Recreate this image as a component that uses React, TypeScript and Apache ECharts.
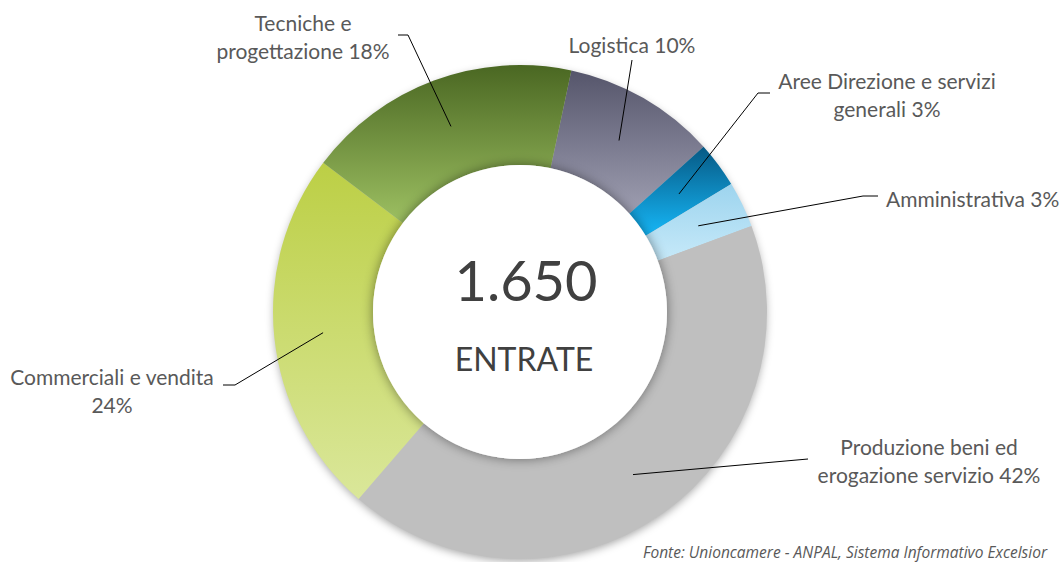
import React, { useEffect, useRef } from "react";
import * as echarts from "echarts";

// ---- data ----
const categories = [
  "Logistica",
  "Aree Direzione e servizi\ngenerali",
  "Amministrativa",
  "Produzione beni ed\nerogazione servizio",
  "Commerciali e vendita",
  "Tecniche e\nprogettazione",
];
const shares = [10, 3, 3, 42, 24, 18];
const labelJoin = [" ", " ", " ", " ", "\n", " "];
const totalEntrate = 1650;
const centerCaption = "ENTRATE";
const sourceNote = "Fonte: Unioncamere - ANPAL, Sistema Informativo Excelsior";

// ---- styles ----
const gradients = [
  ["#55556b", "#9e9eb1"],
  ["#065984", "#16b7f7"],
  ["#9dd4ee", "#c6e9f9"],
  ["#bfbfbf", "#bfbfbf"],
  ["#bccf45", "#dae79a"],
  ["#4a6722", "#9dc062"],
];

// ---- layout (pixels) ----
const CX = 520;
const CY = 312;
const R_IN = 147;
const R_OUT = 247;
const R_LINE = 198;
const START_ANGLE = 78;
const labelPos = [
  { x: 632, y: 44, align: "center", bend: [632, 60], end: [632, 60] },
  { x: 887, y: 94, align: "center", bend: [758, 93], end: [770, 93] },
  { x: 886, y: 198, align: "left", bend: [863, 196], end: [878, 196] },
  { x: 929, y: 460, align: "center", bend: [808, 459], end: [808, 459] },
  { x: 112, y: 390, align: "center", bend: [235, 385], end: [223, 385] },
  { x: 303, y: 36, align: "center", bend: [408, 35], end: [398, 35] },
];

const FONT = "Lato, 'Open Sans', sans-serif";

export default function App() {
  const ref = useRef<HTMLDivElement>(null);

  useEffect(() => {
    if (!ref.current) return;
    const chart = echarts.init(ref.current, null, { renderer: "svg" });
    const total = shares.reduce((a, b) => a + b, 0);

    const data = categories.map((name, i) => ({
      name,
      value: shares[i],
      itemStyle: {
        color: new echarts.graphic.LinearGradient(0, 0, 0, 1, [
          { offset: 0, color: gradients[i][0] },
          { offset: 1, color: gradients[i][1] },
        ]),
      },
    }));

    const overlayData = categories.map((name, i) => ({ name, value: shares[i] }));

    const midPoint = (i: number, p: any) => {
      if (p && p[0]) {
        const dx = p[0][0] - CX;
        const dy = p[0][1] - CY;
        const k = R_LINE / Math.hypot(dx, dy);
        return [CX + dx * k, CY + dy * k];
      }
      let cum = 0;
      for (let j = 0; j < i; j++) cum += shares[j];
      const a = ((START_ANGLE - (360 * (cum + shares[i] / 2)) / total) * Math.PI) / 180;
      return [CX + R_LINE * Math.cos(a), CY - R_LINE * Math.sin(a)];
    };

    chart.setOption({
      animation: false,
      backgroundColor: "#ffffff",
      series: [
        // soft shadow behind the ring
        {
          type: "pie",
          z: 1,
          center: [CX, CY],
          radius: [R_IN + 4, R_OUT - 1],
          silent: true,
          label: { show: false },
          labelLine: { show: false },
          data: [
            {
              value: 1,
              itemStyle: {
                color: "#bfbfbf",
                shadowBlur: 8,
                shadowOffsetY: 3,
                shadowColor: "rgba(0,0,0,0.35)",
              },
            },
          ],
        },
        // main ring
        {
          type: "pie",
          z: 2,
          center: [CX, CY],
          radius: [R_IN, R_OUT],
          startAngle: START_ANGLE,
          clockwise: true,
          silent: true,
          data,
          label: { show: false },
          labelLine: { show: false },
        },
        // labels + leader lines above the ring
        {
          type: "pie",
          z: 3,
          center: [CX, CY],
          radius: [R_IN, R_OUT],
          startAngle: START_ANGLE,
          clockwise: true,
          avoidLabelOverlap: false,
          silent: true,
          data: overlayData,
          itemStyle: { color: "rgba(0,0,0,0)" },
          label: {
            show: true,
            position: "outside",
            color: "#595959",
            fontFamily: FONT,
            fontSize: 21,
            lineHeight: 28,
            formatter: (p: any) => p.name + labelJoin[p.dataIndex] + p.value + "%",
          },
          labelLine: {
            show: true,
            length: 10,
            length2: 10,
            lineStyle: { color: "#000000", width: 1 },
          },
          labelLayout: (params: any) => {
            const i = params.dataIndex;
            const lp = labelPos[i];
            const start = midPoint(i, params.labelLinePoints);
            return {
              x: lp.x,
              y: lp.y,
              align: lp.align,
              verticalAlign: "middle",
              labelLinePoints: [start, lp.bend, lp.end],
            };
          },
        },
        // white centre disc with shadow on the ring's inner edge
        {
          type: "pie",
          z: 4,
          center: [CX, CY],
          radius: [0, R_IN],
          silent: true,
          label: { show: false },
          labelLine: { show: false },
          data: [
            {
              value: 1,
              itemStyle: {
                color: "#ffffff",
                shadowBlur: 12,
                shadowColor: "rgba(0,0,0,0.45)",
              },
            },
          ],
        },
      ],
      graphic: [
        {
          type: "text",
          z: 100,
          x: CX + 6,
          y: CY - 33,
          style: {
            text: totalEntrate.toLocaleString("it-IT"),
            fill: "#404040",
            font: `56px ${FONT}`,
            align: "center",
            verticalAlign: "middle",
          },
        },
        {
          type: "text",
          z: 100,
          x: CX + 4,
          y: CY + 46,
          style: {
            text: centerCaption,
            fill: "#404040",
            font: `32px ${FONT}`,
            align: "center",
            verticalAlign: "middle",
          },
        },
        {
          type: "text",
          z: 100,
          x: 643,
          y: 552,
          style: {
            text: sourceNote,
            fill: "#595959",
            font: `italic 15.5px 'Open Sans', sans-serif`,
            align: "left",
            verticalAlign: "middle",
          },
        },
      ],
    });

    return () => chart.dispose();
  }, []);

  return (
    <div
      ref={ref}
      style={{ position: "fixed", left: 0, top: 0, width: 1062, height: 562 }}
    />
  );
}
